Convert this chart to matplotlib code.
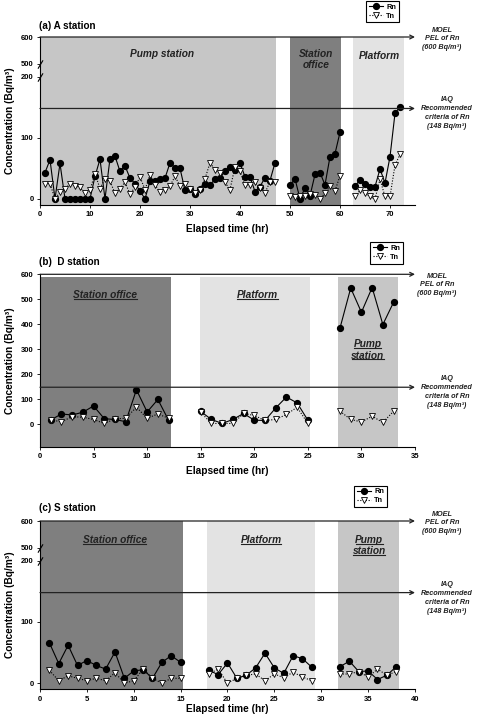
import numpy as np
import matplotlib
matplotlib.use('Agg')
import matplotlib.pyplot as plt
from matplotlib.lines import Line2D
from matplotlib.path import Path
from matplotlib import transforms

plt.rcParams['font.family'] = ['Liberation Sans', 'DejaVu Sans']

# ---------------- data ----------------
# (a) A station
a_x1 = list(range(1, 48))
a_rn1 = [43, 64, 0, 58, 0, 0, 0, 0, 0, 0, 37, 65, 0, 66, 70, 45, 54, 34, 25, 13, 0, 29, 30, 33, 34,
         59, 51, 50, 14, 17, 8, 16, 25, 23, 32, 34, 46, 53, 47, 59, 36, 36, 12, 20, 35, 30, 59]
a_tn1 = [25, 25, 0, 11, 16, 25, 21, 19, 9, 15, 41, 17, 33, 29, 9, 17, 27, 8, 19, 36, 15, 39, 23, 11, 15,
         21, 37, 21, 25, 17, 10, 15, 33, 59, 48, 43, 27, 15, 53, 45, 22, 22, 27, 18, 10, 28, 28]
a_x2 = list(range(50, 61))
a_rn2 = [22, 33, 0, 18, 5, 40, 43, 23, 69, 74, 109]
a_tn2 = [4, 3, 4, 5, 8, 7, 0, 9, 21, 13, 38]
a_x3 = list(range(63, 73))
a_rn3 = [21, 31, 25, 20, 20, 49, 26, 69, 140, 151]
a_tn3 = [4, 14, 10, 4, 0, 32, 4, 4, 55, 73]
a_zones = [(0, 47.2), (50, 60.1), (62.5, 72.7)]
a_zone_names = ['Pump station', 'Station\noffice', 'Platform']

# (b) D station
b_x1 = list(range(1, 13))
b_rn1 = [17, 41, 37, 48, 73, 22, 19, 10, 138, 49, 99, 16]
b_tn1 = [17, 10, 30, 28, 19, 3, 21, 24, 68, 24, 41, 24]
b_x2 = list(range(15, 26))
b_rn2 = [51, 19, 3, 19, 43, 16, 15, 65, 109, 85, 16]
b_tn2 = [48, 3, 3, 3, 43, 35, 15, 19, 39, 68, 3]
b_x3 = list(range(28, 34))
b_rn3 = [385, 545, 448, 547, 399, 488]
b_tn3 = [52, 19, 9, 32, 7, 52]
b_zones = [(0, 12.2), (14.9, 25.2), (27.8, 33.4)]

# (c) S station
c_x1 = list(range(1, 16))
c_rn1 = [66, 32, 62, 29, 37, 29, 23, 51, 8, 20, 22, 8, 34, 45, 34]
c_tn1 = [21, 4, 12, 8, 4, 8, 4, 17, 0, 4, 23, 8, 0, 8, 8]
c_x2 = list(range(18, 30))
c_rn2 = [21, 14, 33, 8, 13, 25, 49, 25, 16, 45, 40, 26]
c_tn2 = [15, 23, 0, 8, 13, 15, 4, 15, 9, 18, 10, 4]
c_x3 = list(range(32, 39))
c_rn3 = [27, 36, 19, 20, 6, 13, 27]
c_tn3 = [15, 15, 19, 10, 23, 13, 19]
c_zones = [(0, 15.3), (17.8, 29.3), (31.8, 38.3)]

moel = 600
iaq = 148
broken_ticks = [0, 100, 200, 500, 600]
b_ticks = [0, 100, 200, 300, 400, 500, 600]

# ---------------- styling ----------------
C_DARK = '#7f7f7f'
C_MID = '#c6c6c6'
C_LIGHT = '#e3e3e3'

W, H = 481, 715
fig = plt.figure(figsize=(W / 100, H / 100), dpi=100)


def ax_at(l, t, r, b):
    return fig.add_axes([l / W, 1 - b / H, (r - l) / W, (b - t) / H])


def fwd(y):
    return np.interp(y, [-1e4, 200, 500, 1e4], [-1e4, 200, 221, 221 + 9500 * 0.44])


def inv(y):
    return np.interp(y, [-1e4, 200, 221, 221 + 9500 * 0.44], [-1e4, 200, 500, 1e4])


FS_TICK = 5.5
FS_LAB = 7.3
BI = dict(weight='bold', style='italic')


def style(ax):
    for s in ['top', 'right']:
        ax.spines[s].set_visible(False)
    for s in ['left', 'bottom']:
        ax.spines[s].set_linewidth(0.8)
    ax.tick_params(direction='out', length=2.5, width=0.6, labelsize=FS_TICK, pad=2)
    for lab in ax.get_xticklabels() + ax.get_yticklabels():
        lab.set_fontweight('bold')
    ax.set_facecolor('none')


def series(ax, xs, rn, tn):
    ax.plot(xs, rn, color='k', lw=0.8, marker='o', ms=4.2, mfc='k', mec='k', zorder=4, clip_on=False)
    ax.plot(xs, tn, color='k', lw=0.8, ls=(0, (1, 1.5)), marker='v', ms=4.3, mfc='white', mec='k',
            mew=0.6, zorder=5, clip_on=False)


def arrows(ax):
    tr = transforms.blended_transform_factory(ax.transAxes, ax.transData)
    for v in (moel, iaq):
        ax.annotate('', xy=(1.0, v), xycoords=tr, xytext=(0.0, v), textcoords=tr,
                    arrowprops=dict(arrowstyle='->', lw=0.9, color='#222222', mutation_scale=7,
                                    shrinkA=0, shrinkB=0), zorder=6)


slash = Path([(-0.6, -1.0), (0.6, 1.0)], [Path.MOVETO, Path.LINETO])


def breaks(ax):
    tr = transforms.blended_transform_factory(ax.transAxes, ax.transData)
    for v in broken_ticks[2:4]:
        ax.plot([0.0], [v], transform=tr, marker=slash, ms=6, mew=0.8, color='k', ls='none',
                clip_on=False, zorder=7)


def xlabel(ax, off_px, axh_px):
    ax.set_xlabel('Elapsed time (hr)', fontsize=FS_LAB, weight='bold')
    ax.xaxis.set_label_coords(0.5, -off_px / axh_px)
    ax.xaxis.label.set_va('center')


def ylabel(ax):
    ax.set_ylabel('Concentration (Bq/m³)', fontsize=FS_LAB, weight='bold')
    ax.yaxis.set_label_coords(-30 / 375, 0.5)
    ax.yaxis.label.set_va('center')


underlined = []

# ---------------- (a) ----------------
axa = ax_at(40, 37, 415, 205)
axa.set_yscale('function', functions=(fwd, inv))
axa.set_xlim(0, 75)
axa.set_ylim(-10, 600)
for (x0, x1), c in zip(a_zones, [C_MID, C_DARK, C_LIGHT]):
    axa.axvspan(x0, x1, color=c, lw=0, zorder=0)
series(axa, a_x1, a_rn1, a_tn1)
series(axa, a_x2, a_rn2, a_tn2)
series(axa, a_x3, a_rn3, a_tn3)
axa.set_xticks(np.arange(0, 71, 10))
axa.set_yticks(broken_ticks)
axa.set_yticklabels([str(t) for t in broken_ticks])
style(axa)
arrows(axa)
breaks(axa)
xlabel(axa, 24, 168)
ylabel(axa)
tra = transforms.blended_transform_factory(axa.transData, axa.transAxes)
for (x0, x1), name, cx, cy in zip(a_zones, a_zone_names, [24.3, 55.2, 67.8], [0.899, 0.866, 0.887]):
    axa.text(cx, cy, name, transform=tra, ha='center', va='center', fontsize=FS_LAB,
             linespacing=1.05, color='#222222', **BI)

# ---------------- (b) ----------------
axb = ax_at(40, 274.3, 415, 446.7)
axb.set_xlim(0, 35)
axb.set_ylim(-90, 600)
for (x0, x1), c in zip(b_zones, [C_DARK, C_LIGHT, C_MID]):
    axb.fill_between([x0, x1], -90, 590, color=c, lw=0, zorder=0)
series(axb, b_x1, b_rn1, b_tn1)
series(axb, b_x2, b_rn2, b_tn2)
series(axb, b_x3, b_rn3, b_tn3)
axb.set_xticks(np.arange(0, 36, 5))
axb.set_yticks(b_ticks)
style(axb)
arrows(axb)
xlabel(axb, 24.5, 172.4)
ylabel(axb)
trb = transforms.blended_transform_factory(axb.transData, axb.transAxes)
for name, cx, cy in [('Station office', 6.07, 0.880), ('Platform', 20.3, 0.880),
                     ('Pump', 30.6, 0.594), ('station', 30.6, 0.528)]:
    underlined.append(axb.text(cx, cy, name, transform=trb, ha='center', va='center',
                               fontsize=FS_LAB, color='#222222', **BI))

# ---------------- (c) ----------------
axc = ax_at(40, 521, 415, 689.3)
axc.set_yscale('function', functions=(fwd, inv))
axc.set_xlim(0, 40)
axc.set_ylim(-10, 600)
for (x0, x1), c in zip(c_zones, [C_DARK, C_LIGHT, C_MID]):
    axc.axvspan(x0, x1, color=c, lw=0, zorder=0)
series(axc, c_x1, c_rn1, c_tn1)
series(axc, c_x2, c_rn2, c_tn2)
series(axc, c_x3, c_rn3, c_tn3)
axc.set_xticks(np.arange(0, 41, 5))
axc.set_yticks(broken_ticks)
axc.set_yticklabels([str(t) for t in broken_ticks])
style(axc)
arrows(axc)
breaks(axc)
xlabel(axc, 19.5, 168.3)
ylabel(axc)
trc = transforms.blended_transform_factory(axc.transData, axc.transAxes)
for name, cx, cy in [('Station office', 8.0, 0.886), ('Platform', 23.6, 0.886),
                     ('Pump', 35.1, 0.886), ('station', 35.1, 0.821)]:
    underlined.append(axc.text(cx, cy, name, transform=trc, ha='center', va='center',
                               fontsize=FS_LAB, color='#222222', **BI))

# ---------------- titles, legends, annotations ----------------
for txt, yp in [('(a) A station', 26), ('(b)  D station', 262.3), ('(c) S station', 507.7)]:
    fig.text(39 / W, 1 - yp / H, txt, ha='left', va='center', fontsize=7.1, weight='bold')

handles = [Line2D([], [], color='k', lw=0.8, marker='o', ms=4.2),
           Line2D([], [], color='k', lw=0.8, ls=(0, (1, 1.5)), marker='v', ms=4.3, mfc='white', mew=0.6)]
for lx, ly in [(366, 1), (370, 242.3), (354, 485.7)]:
    fig.legend(handles, ['Rn', 'Tn'], loc='upper left', bbox_to_anchor=(lx / W, 1 - ly / H),
               prop=dict(size=5.3, weight='bold'), frameon=True, fancybox=False, edgecolor='k',
               framealpha=1, borderpad=0.35, handlelength=2.0, labelspacing=0.25,
               handletextpad=0.4, borderaxespad=0).get_frame().set_linewidth(0.8)

moel_txt = 'MOEL\nPEL of Rn\n(600 Bq/m³)'
iaq_txt = 'IAQ\nRecommended\ncriteria of Rn\n(148 Bq/m³)'
for txt, xp, yp in [(moel_txt, 442, 39), (iaq_txt, 447, 113),
                    (moel_txt, 437, 285), (iaq_txt, 447, 392),
                    (moel_txt, 442, 523), (iaq_txt, 447, 598)]:
    fig.text(xp / W, 1 - yp / H, txt, ha='center', va='center', fontsize=5.2,
             linespacing=1.35, color='#222222', **BI)

# underline zone labels in (b) and (c)
fig.canvas.draw()
r = fig.canvas.get_renderer()
inv_fig = fig.transFigure.inverted()
for t in underlined:
    bb = t.get_window_extent(r)
    (x0, y0), (x1, _) = inv_fig.transform([(bb.x0 + 0.5, bb.y0 + 1.2), (bb.x1 - 0.5, bb.y0 + 1.2)])
    fig.add_artist(Line2D([x0, x1], [y0, y0], transform=fig.transFigure, color='#222222', lw=0.8))

fig.savefig('out.png', dpi=100, facecolor='white')
